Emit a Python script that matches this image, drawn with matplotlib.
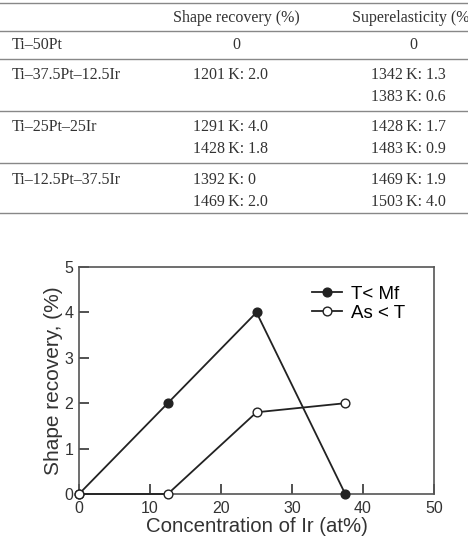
import matplotlib.pyplot as plt
from matplotlib.lines import Line2D

# table data
alloys = ['Ti\u201350Pt', 'Ti\u201337.5Pt\u201312.5Ir', 'Ti\u201325Pt\u201325Ir', 'Ti\u201312.5Pt\u201337.5Ir']
shape_recovery = [['0'], ['1201\u2009K: 2.0'], ['1291\u2009K: 4.0', '1428\u2009K: 1.8'],
                  ['1392\u2009K: 0', '1469\u2009K: 2.0']]
superelasticity = [['0'], ['1342\u2009K: 1.3', '1383\u2009K: 0.6'], ['1428\u2009K: 1.7', '1483\u2009K: 0.9'],
                   ['1469\u2009K: 1.9', '1503\u2009K: 4.0']]

# plot data
ir_conc = [0, 12.5, 25, 37.5]
below_mf = [0, 2.0, 4.0, 0]
above_as = [0, 0, 1.8, 2.0]

W, H = 468, 544
fig = plt.figure(figsize=(W / 100, H / 100), dpi=100)


def fx(px):
    return px / W


def fy(py):
    return 1 - py / H


serif = ['Liberation Serif', 'DejaVu Serif']
tsize = 11.5
tcol = '#333333'

# horizontal rules
for yl in [3, 31, 59, 111, 163, 213]:
    fig.add_artist(Line2D([0, 1], [fy(yl), fy(yl)], color='#888888', lw=1.0))

fig.text(fx(236), fy(18), 'Shape recovery (%)', family=serif, size=tsize,
         ha='center', va='center', color=tcol)
fig.text(fx(352), fy(18), 'Superelasticity (%)', family=serif, size=tsize,
         ha='left', va='center', color=tcol)

row_top = [45, 75, 127, 180]
row_step = 22
for i, name in enumerate(alloys):
    y0 = row_top[i]
    fig.text(fx(12), fy(y0), name, family=serif, size=tsize, ha='left', va='center', color=tcol)
    for j, s in enumerate(shape_recovery[i]):
        if s == '0':
            fig.text(fx(236), fy(y0), s, family=serif, size=tsize, ha='center', va='center', color=tcol)
        else:
            fig.text(fx(193), fy(y0 + j * row_step), s, family=serif, size=tsize,
                     ha='left', va='center', color=tcol)
    for j, s in enumerate(superelasticity[i]):
        if s == '0':
            fig.text(fx(413), fy(y0), s, family=serif, size=tsize, ha='center', va='center', color=tcol)
        else:
            fig.text(fx(371), fy(y0 + j * row_step), s, family=serif, size=tsize,
                     ha='left', va='center', color=tcol)

# chart
sans = ['Liberation Sans', 'DejaVu Sans']
ax = fig.add_axes([fx(79), fy(494), fx(434) - fx(79), (494 - 267) / H])
ax.plot(ir_conc, below_mf, '-o', color='#222222', mfc='#222222', mec='#222222',
        ms=6.3, lw=1.3, label='T< Mf', clip_on=False, zorder=3)
ax.plot(ir_conc, above_as, '-o', color='#222222', mfc='white', mec='#222222',
        ms=6.3, lw=1.3, label='As < T', clip_on=False, zorder=4)
ax.set_xlim(0, 50)
ax.set_ylim(0, 5)
ax.set_xticks([0, 10, 20, 30, 40, 50])
ax.set_yticks([0, 1, 2, 3, 4, 5])
ax.tick_params(direction='in', length=7, width=1.2, labelsize=11.5, colors='#333333', pad=4)
ax.tick_params(axis='x', pad=5)
for lab in ax.get_xticklabels() + ax.get_yticklabels():
    lab.set_family(sans)
for sp in ax.spines.values():
    sp.set_color('#555555')
    sp.set_linewidth(1.2)
ax.set_xlabel('Concentration of Ir (at%)', family=sans, size=14.7, color='#333333', labelpad=1)
ax.set_ylabel('Shape recovery, (%)', family=sans, size=15, color='#333333', labelpad=1)
leg = ax.legend(loc='upper right', frameon=False, prop={'family': sans, 'size': 13.5},
                handlelength=1.6, handletextpad=0.5, labelspacing=0.1,
                bbox_to_anchor=(0.94, 0.95), borderaxespad=0)

fig.savefig('out.png', dpi=100)
